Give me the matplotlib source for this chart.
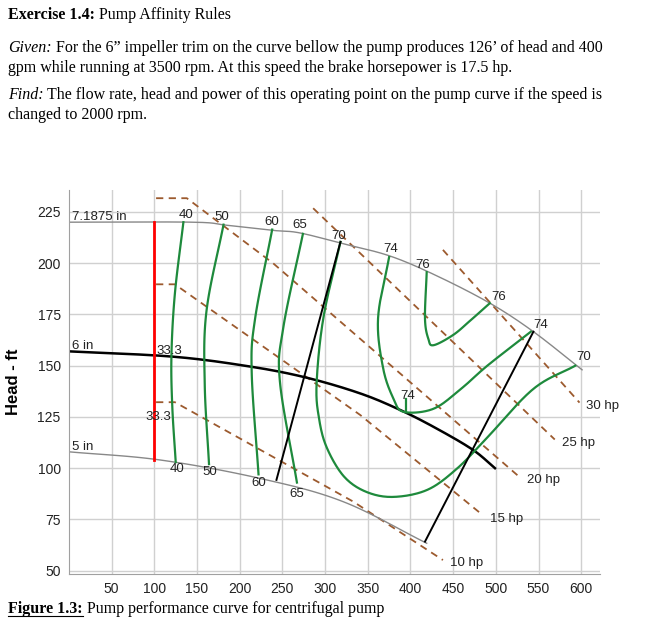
import numpy as np
import matplotlib.pyplot as plt

# impeller curves (gpm, ft)
imp_7 = [(0, 220), (145, 220), (185, 218.5), (239, 216), (270, 214.8), (321, 209.5),
         (376, 203.5), (430, 194), (493, 180.5), (544, 166.6), (601, 148)]
imp_6 = [(0, 157), (122, 154.4), (212, 149.6), (278, 144.2), (341, 136.5),
         (388, 128.4), (430, 119.5), (473, 109), (499, 100)]
imp_5 = [(0, 108), (107, 104), (224, 95), (321, 83.7), (419, 63.4)]

# efficiency contours
eff_lines = {
    '40': [(134, 220), (124, 185), (120, 155), (121, 130), (125, 103)],
    '50': [(181, 218.8), (161, 176.5), (159, 141), (164, 102)],
    '60': [(238, 216.4), (218, 173), (214, 147), (222, 97)],
    '65': [(274, 214.3), (251, 168.5), (247, 142.5), (267, 93)],
    '70': [(318, 210.4), (298, 173.4), (290, 141), (293, 124), (302, 110), (322, 96),
           (348, 88.5), (380, 86), (420, 89.5), (455, 100), (490, 115), (544, 138.7), (593, 150)],
    '74': [(375, 203), (362, 173), (368, 148.7), (380, 134), (392, 127.5), (427, 129),
           (460, 139), (490, 150), (541, 166.6)],
    '76': [(419, 195.6), (417, 173), (421, 163), (427, 160), (450, 165), (470, 172), (493, 180.5)],
}
eff_tick_74 = [(394.6, 134), (394.6, 127.5)]

# brake horsepower lines
hp_lines = {
    '10 hp': [(102, 132.2), (124, 132.2), (333, 83.7), (438, 55.2)],
    '15 hp': [(102, 189.7), (124, 189.7), (341, 126), (485, 77)],
    '20 hp': [(102, 231.7), (138, 231.7), (239, 200), (528, 95.6)],
    '25 hp': [(286, 226.8), (569, 114)],
    '30 hp': [(438, 206.5), (598, 132)],
}

# system curves
sys1 = [(318, 210.4), (243, 94.3)]
sys2 = [(544, 166.6), (417, 64.2)]

red_x = [100, 100]
red_y = [104, 220]

fig = plt.figure(figsize=(6.49, 6.34), dpi=100)
serif = 'Liberation Serif'
fs = 11.5
fig.text(8 / 649, 1 - 15 / 634, 'Exercise 1.4:', fontsize=fs, family=serif, weight='bold', va='center')
fig.text(99 / 649, 1 - 15 / 634, 'Pump Affinity Rules', fontsize=fs, family=serif, va='center')
fig.text(8 / 649, 1 - 48 / 634, 'Given:', fontsize=fs, family=serif, style='italic', va='center')
fig.text(56 / 649, 1 - 48 / 634,
         'For the 6\u201d impeller trim on the curve bellow the pump produces 126\u2019 of head and 400',
         fontsize=fs, family=serif, va='center')
fig.text(8 / 649, 1 - 68 / 634,
         'gpm while running at 3500 rpm. At this speed the brake horsepower is 17.5 hp.',
         fontsize=fs, family=serif, va='center')
fig.text(8 / 649, 1 - 95 / 634, 'Find:', fontsize=fs, family=serif, style='italic', va='center')
fig.text(47 / 649, 1 - 95 / 634,
         'The flow rate, head and power of this operating point on the pump curve if the speed is',
         fontsize=fs, family=serif, va='center')
fig.text(8 / 649, 1 - 115 / 634, 'changed to 2000 rpm.', fontsize=fs, family=serif, va='center')
fig.text(8 / 649, 1 - 609 / 634, 'Figure 1.3:', fontsize=fs, family=serif, weight='bold',
         va='center')
fig.add_artist(plt.Line2D([8 / 649, 83 / 649], [1 - 616 / 634] * 2, color='black', lw=0.8))
fig.text(87 / 649, 1 - 609 / 634, 'Pump performance curve for centrifugal pump', fontsize=fs,
         family=serif, va='center')

sans = 'Liberation Sans'
ax = fig.add_axes([69 / 649, 1 - 574 / 634, 531 / 649, 384 / 634])
ax.set_xlim(0, 622)
ax.set_ylim(48.4, 235.7)
ax.set_xticks(range(50, 601, 50))
ax.set_yticks(range(50, 226, 25))
ax.grid(True, color='#d0d0d0', lw=1)
ax.set_axisbelow(True)
for s in ['top', 'right']:
    ax.spines[s].set_visible(False)
for s in ['left', 'bottom']:
    ax.spines[s].set_color('#a0a0a0')
ax.tick_params(length=0, labelsize=10, colors='#222222', pad=6)
for lab in ax.get_xticklabels() + ax.get_yticklabels():
    lab.set_family(sans)
ax.set_ylabel('Head - ft', fontsize=12, weight='bold', labelpad=12, family=sans)


def smooth(pts, n=20):
    # Catmull-Rom drawing between the read points
    p = np.array(pts, float)
    if len(p) < 3:
        return p[:, 0], p[:, 1]
    ext = np.vstack([2 * p[0] - p[1], p, 2 * p[-1] - p[-2]])
    out = []
    t = np.linspace(0, 1, n, endpoint=False)[:, None]
    for i in range(1, len(ext) - 2):
        p0, p1, p2, p3 = ext[i - 1], ext[i], ext[i + 1], ext[i + 2]
        out.append(0.5 * (2 * p1 + (-p0 + p2) * t + (2 * p0 - 5 * p1 + 4 * p2 - p3) * t ** 2
                          + (-p0 + 3 * p1 - 3 * p2 + p3) * t ** 3))
    out.append(p[-1:])
    out = np.vstack(out)
    return out[:, 0], out[:, 1]


def xy(pts):
    return [p[0] for p in pts], [p[1] for p in pts]


for pts in hp_lines.values():
    ax.plot(*xy(pts), color='#9c5a2e', lw=1.3, ls=(0, (4, 3)))
ax.plot(*smooth(imp_7), color='#888888', lw=1)
ax.plot(*smooth(imp_5), color='#888888', lw=1)
ax.plot(*smooth(imp_6), color='black', lw=1.8)
for pts in eff_lines.values():
    ax.plot(*smooth(pts), color='#1e8a3c', lw=1.6)
ax.plot(*xy(eff_tick_74), color='#1e8a3c', lw=1.6)
ax.plot(*xy(sys1), color='black', lw=1.4)
ax.plot(*xy(sys2), color='black', lw=1.4)
ax.plot(red_x, red_y, color='red', lw=2)

tk = dict(fontsize=9.5, color='#222222', family=sans)
ax.text(3, 221, '7.1875 in', **tk)
ax.text(3, 158, '6 in', **tk)
ax.text(3, 109, '5 in', **tk)
top_labels = [('40', 128, 222), ('50', 170, 221), ('60', 229, 218.5), ('65', 262, 217),
              ('70', 307, 212), ('74', 368, 205.5), ('76', 406, 197.5), ('76', 495, 182),
              ('74', 544, 168.5), ('70', 594, 153)]
for t, x, y in top_labels:
    ax.text(x, y, t, **tk)
bot_labels = [('40', 118, 98), ('50', 156, 96.5), ('60', 214, 91.5), ('65', 258, 86)]
for t, x, y in bot_labels:
    ax.text(x, y, t, **tk)
ax.text(102, 155.5, '33.3', **tk)
ax.text(89, 123.5, '33.3', **tk)
ax.text(388, 134, '74', **tk)
for name, pts in hp_lines.items():
    x, y = pts[-1]
    ax.text(x + 8, y - 3, name, **tk)

fig.savefig('out.png', dpi=100)
